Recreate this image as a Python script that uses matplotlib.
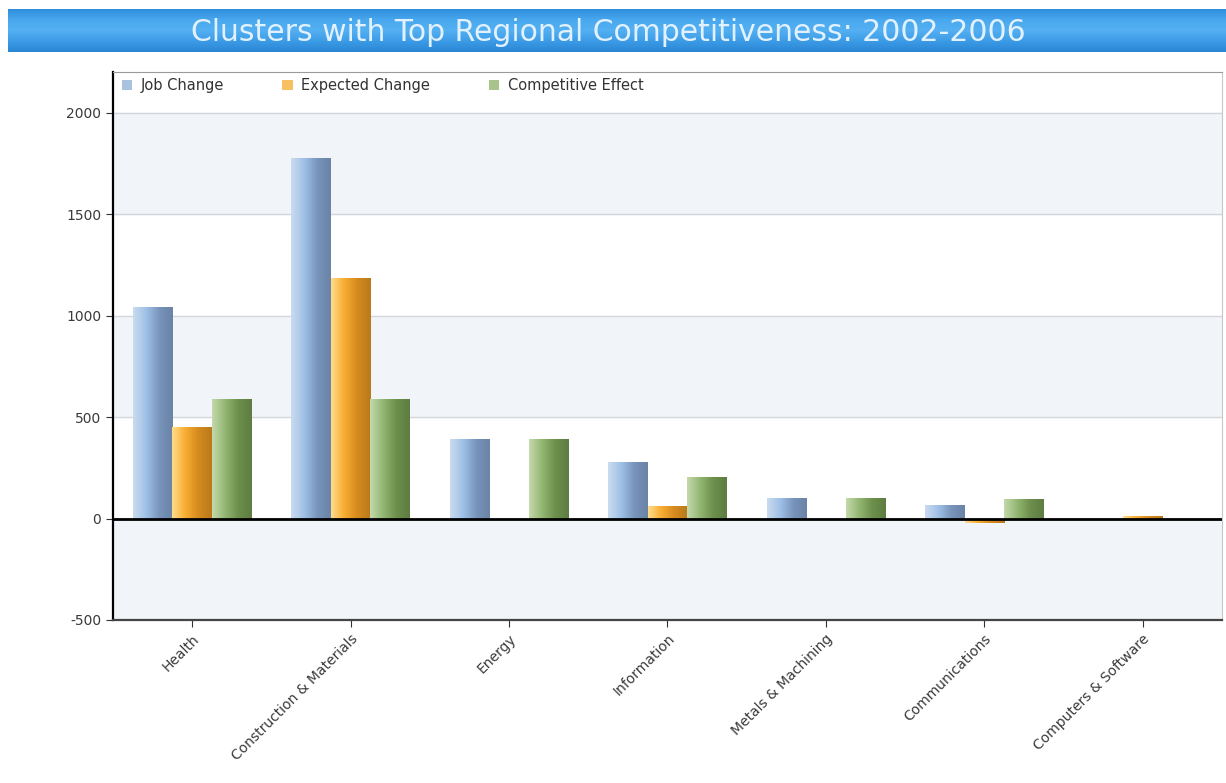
import matplotlib
matplotlib.use('Agg')
import matplotlib.pyplot as plt
import numpy as np
from matplotlib.colors import LinearSegmentedColormap
from matplotlib.patches import Patch

plt.rcParams['font.family'] = ['DejaVu Sans']

# Cluster data: job change decomposition, 2002-2006
clusters = ['Health', 'Construction & Materials', 'Energy', 'Information',
            'Metals & Machining', 'Communications', 'Computers & Software']
job_change = [1040, 1775, 390, 280, 100, 65, 0]
expected_change = [450, 1185, 0, 60, 0, -20, 10]
competitive_effect = [590, 590, 390, 205, 100, 95, 0]

series_names = ['Job Change', 'Expected Change', 'Competitive Effect']
yticks = [-500, 0, 500, 1000, 1500, 2000]

# left -> mid -> right shading for each series
shades = [
    ['#c9dbef', '#9fc0e6', '#7894bb', '#6a83a6'],
    ['#fedc8c', '#f8ac30', '#d48a1e', '#b97a1c'],
    ['#c4d8ab', '#92b672', '#6c8f4c', '#5e7d42'],
]
legend_colors = ['#a9c2e0', '#f7c062', '#a8c48c']

fig = plt.figure(figsize=(12.26, 7.83), dpi=100)
fig.patch.set_facecolor('white')

# title banner
banner = fig.add_axes([0.0065, 0.934, 0.9935, 0.054])
grad = np.linspace(0, 1, 64).reshape(-1, 1)
banner_cmap = LinearSegmentedColormap.from_list(
    'banner', ['#2f8fdc', '#49a8ee', '#54b0f2', '#3c9be6', '#2a86d4'])
banner.imshow(grad, aspect='auto', cmap=banner_cmap, extent=[0, 1, 0, 1])
banner.set_axis_off()
banner.text(0.493, 0.45, 'Clusters with Top Regional Competitiveness: 2002-2006',
            ha='center', va='center', fontsize=21.5, color='#e2f1ff')

ax = fig.add_axes([0.0922, 0.2082, 0.9045, 0.6998])

# alternating background bands
ax.set_facecolor('white')
for lo in range(-500, 2000, 1000):
    ax.axhspan(lo, lo + 500, color='#f1f4f9', zorder=0)
for yv in yticks[1:]:
    ax.axhline(yv, color='#d3d6db', lw=1, zorder=1)

x = np.arange(len(clusters))
width = 0.25
all_series = [job_change, expected_change, competitive_effect]
row = np.linspace(0, 1, 64).reshape(1, -1)
for i, vals in enumerate(all_series):
    cmap = LinearSegmentedColormap.from_list('s%d' % i, shades[i])
    bars = ax.bar(x + (i - 1) * width, vals, width, color='none',
                  edgecolor='none', zorder=3)
    for b in bars:
        if b.get_height() == 0:
            continue
        x0 = b.get_x()
        y0 = b.get_y()
        im = ax.imshow(row, aspect='auto', cmap=cmap,
                       extent=[x0, x0 + b.get_width(), y0, y0 + b.get_height()],
                       zorder=3)
        im.set_clip_path(b)

ax.axhline(0, color='black', lw=2, zorder=4)

ax.set_xlim(-0.5, len(clusters) - 0.5)
ax.set_ylim(-500, 2200)
ax.set_yticks(yticks)
ax.set_yticklabels([str(v) for v in yticks], fontsize=10, color='#3a3a3a')
ax.set_xticks(x)
ax.set_xticklabels(clusters, rotation=45, ha='right', rotation_mode='anchor',
                   fontsize=10, color='#3a3a3a')
ax.tick_params(axis='both', direction='out', length=5, color='#333333')

ax.spines['left'].set_color('black')
ax.spines['left'].set_linewidth(1.6)
ax.spines['bottom'].set_color('#444444')
ax.spines['bottom'].set_linewidth(1.6)
ax.spines['top'].set_color('#9a9a9a')
ax.spines['right'].set_color('#c8c8c8')

handles = [Patch(facecolor=c, edgecolor='none') for c in legend_colors]
leg = ax.legend(handles, series_names, loc='upper left', ncol=3, frameon=False,
                fontsize=10.5, handlelength=0.7, handleheight=0.7,
                handletextpad=0.6, columnspacing=4.0, borderaxespad=0.2,
                bbox_to_anchor=(0.0, 1.005))
for t in leg.get_texts():
    t.set_color('#333333')

fig.savefig('out.png', dpi=100)
